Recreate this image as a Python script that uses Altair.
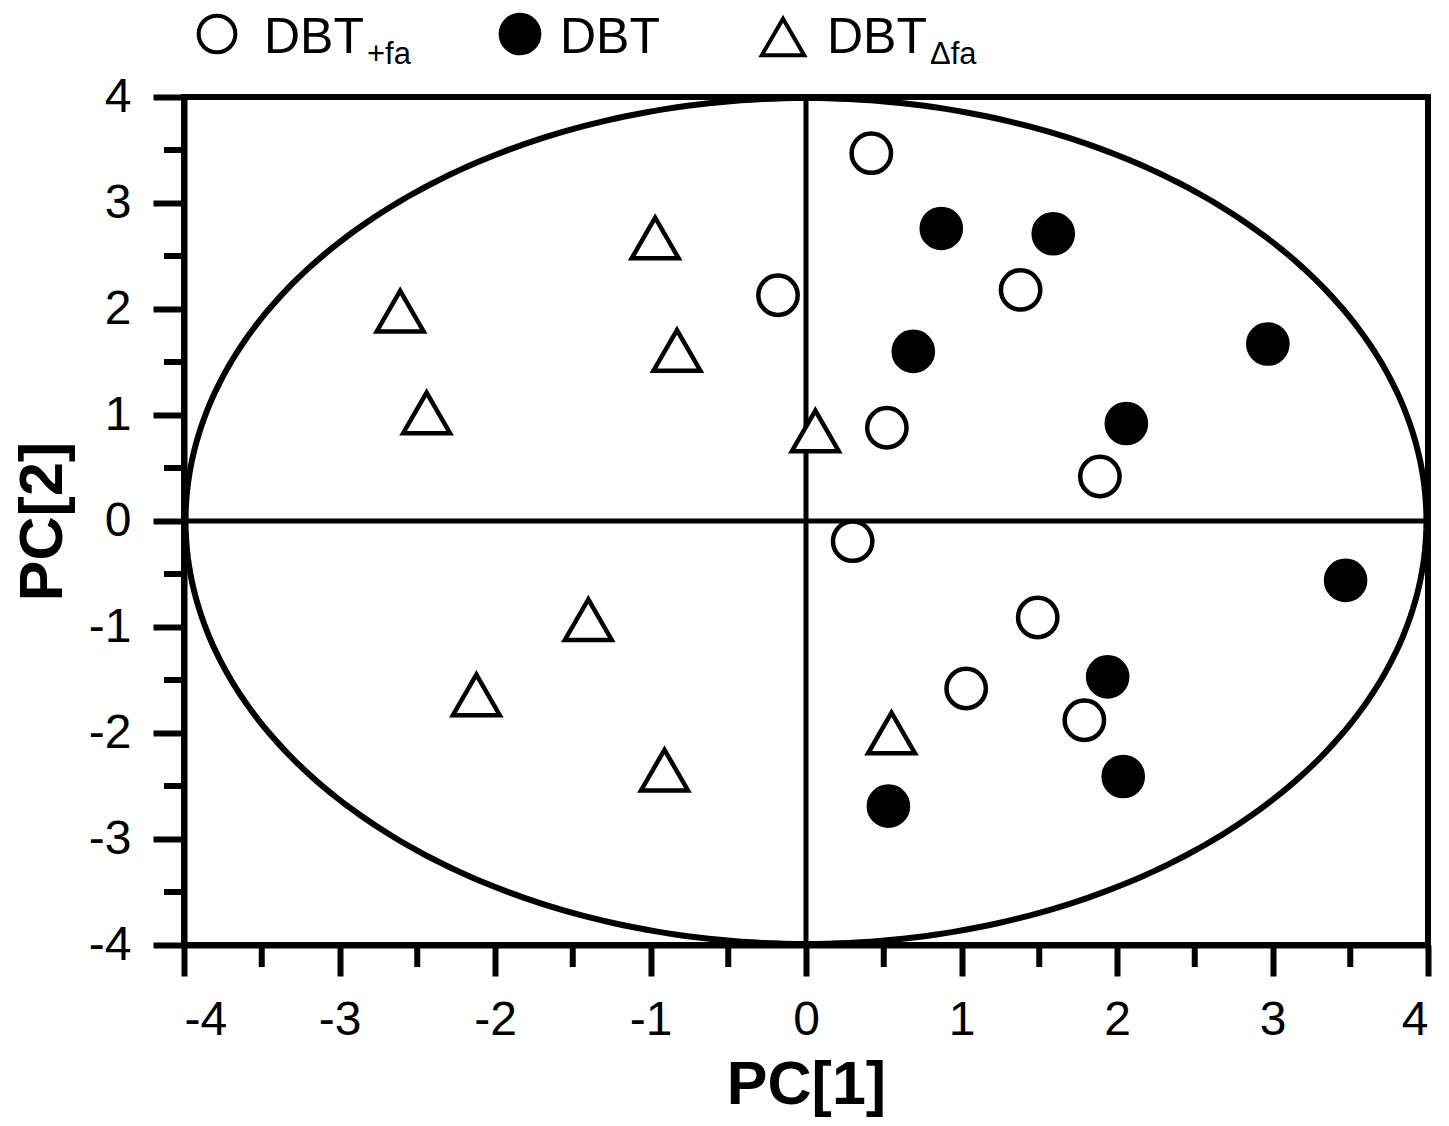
import altair as alt
import numpy as np
import pandas as pd

# ---- data ----
fa_plus_x = [0.42, -0.18, 1.38, 0.52, 1.89, 0.30, 1.49, 1.03, 1.79]
fa_plus_y = [3.47, 2.13, 2.18, 0.88, 0.42, -0.19, -0.91, -1.58, -1.88]

dbt_x = [0.87, 1.59, 0.69, 2.97, 2.06, 3.47, 1.94, 2.04, 0.53]
dbt_y = [2.76, 2.71, 1.60, 1.67, 0.92, -0.56, -1.47, -2.41, -2.69]

fa_delta_x = [-0.97, -2.61, -0.83, -2.44, 0.06, -1.40, -2.12, 0.55, -0.91]
fa_delta_y = [2.67, 1.98, 1.61, 1.02, 0.85, -0.93, -1.64, -2.00, -2.35]

major_ticks = [-4, -3, -2, -1, 0, 1, 2, 3, 4]
minor_ticks = [-3.5, -2.5, -1.5, -0.5, 0.5, 1.5, 2.5, 3.5]

ellipse_a = 3.99
ellipse_b = 3.99

W, H = 1244, 848
FONT = "Liberation Sans"

xs = alt.Scale(domain=[-4, 4], nice=False, zero=False)
ys = alt.Scale(domain=[-4, 4], nice=False, zero=False)

axis_common = dict(
    values=major_ticks, grid=False, domainColor="black", domainWidth=6,
    tickColor="black", tickWidth=6, tickSize=31, labelFont=FONT,
    labelFontSize=48, labelColor="black", labelExpr="datum.value + ''",
    titleFont=FONT, titleFontSize=61, titleFontWeight="bold", titleColor="black",
)

t = np.linspace(0, 2 * np.pi, 361)
ell = pd.DataFrame({"x": ellipse_a * np.cos(t), "y": ellipse_b * np.sin(t), "o": np.arange(len(t))})

ellipse = alt.Chart(ell).mark_line(color="black", strokeWidth=6, clip=False).encode(
    x=alt.X("x:Q", scale=xs, axis=alt.Axis(title="PC[1]", labelPadding=20, titlePadding=11, **axis_common)),
    y=alt.Y("y:Q", scale=ys, axis=alt.Axis(title="PC[2]", labelPadding=22, titlePadding=14, **axis_common)),
    order="o:Q",
)

zero_v = alt.Chart(pd.DataFrame({"x": [0]})).mark_rule(color="black", strokeWidth=5).encode(x=alt.X("x:Q", scale=xs))
zero_h = alt.Chart(pd.DataFrame({"y": [0]})).mark_rule(color="black", strokeWidth=5).encode(y=alt.Y("y:Q", scale=ys))

minor_df = pd.DataFrame({"v": minor_ticks})
minor_x = alt.Chart(minor_df).mark_rule(color="black", strokeWidth=6).encode(
    x=alt.X("v:Q", scale=xs), y=alt.value(H), y2=alt.value(H + 22))
minor_y = alt.Chart(minor_df).mark_rule(color="black", strokeWidth=6).encode(
    y=alt.Y("v:Q", scale=ys), x=alt.value(0), x2=alt.value(-20))

pts = pd.DataFrame({
    "x": fa_plus_x + dbt_x + fa_delta_x,
    "y": fa_plus_y + dbt_y + fa_delta_y,
    "g": ["DBT+fa"] * len(fa_plus_x) + ["DBT"] * len(dbt_x) + ["DBTdfa"] * len(fa_delta_x),
})

open_c = alt.Chart(pts[pts.g == "DBT+fa"]).mark_point(
    shape="circle", size=1550, filled=False, stroke="black", strokeWidth=4.5, fill="white", fillOpacity=1, opacity=1
).encode(x=alt.X("x:Q", scale=xs), y=alt.Y("y:Q", scale=ys))

fill_c = alt.Chart(pts[pts.g == "DBT"]).mark_point(
    shape="circle", size=1650, filled=True, color="black", stroke="black", strokeWidth=3, opacity=1
).encode(x=alt.X("x:Q", scale=xs), y=alt.Y("y:Q", scale=ys))

tri = alt.Chart(pts[pts.g == "DBTdfa"]).mark_point(
    shape="triangle-up", size=2200, filled=False, stroke="black", strokeWidth=4.5, fill="white", fillOpacity=1, opacity=1
).encode(x=alt.X("x:Q", scale=xs), y=alt.Y("y:Q", scale=ys))

# ---- manual legend (above the plot) ----
ox, oy = 184, 97
one = pd.DataFrame({"a": [0]})

def sym(shape, px, py, filled, size):
    return alt.Chart(one).mark_point(
        shape=shape, size=size, filled=filled, color="black", stroke="black",
        strokeWidth=4, opacity=1, fill="black" if filled else "white", fillOpacity=1
    ).encode(x=alt.value(px - ox), y=alt.value(py - oy))

def txt(s, px, py, fs):
    return alt.Chart(one).mark_text(
        text=s, font=FONT, fontSize=fs, align="left", baseline="alphabetic", color="black"
    ).encode(x=alt.value(px - ox), y=alt.value(py - oy))

legend = [
    sym("circle", 217, 34, False, 1350), txt("DBT", 264, 53, 50), txt("+fa", 367, 64, 31),
    sym("circle", 520, 34, True, 1500), txt("DBT", 560, 53, 50),
    sym("triangle-up", 783, 37, False, 1800), txt("DBT", 827, 53, 50), txt("Δfa", 930, 64, 31),
]

chart = alt.layer(ellipse, zero_v, zero_h, minor_x, minor_y, open_c, fill_c, tri, *legend).properties(
    width=W, height=H,
    autosize=alt.AutoSizeParams(type="none"),
    padding={"left": 176, "top": 89, "right": 10, "bottom": 172},
    background="white",
).configure_view(stroke="black", strokeWidth=6)

chart.save("out.html", embed_options={"renderer": "svg", "actions": False})
